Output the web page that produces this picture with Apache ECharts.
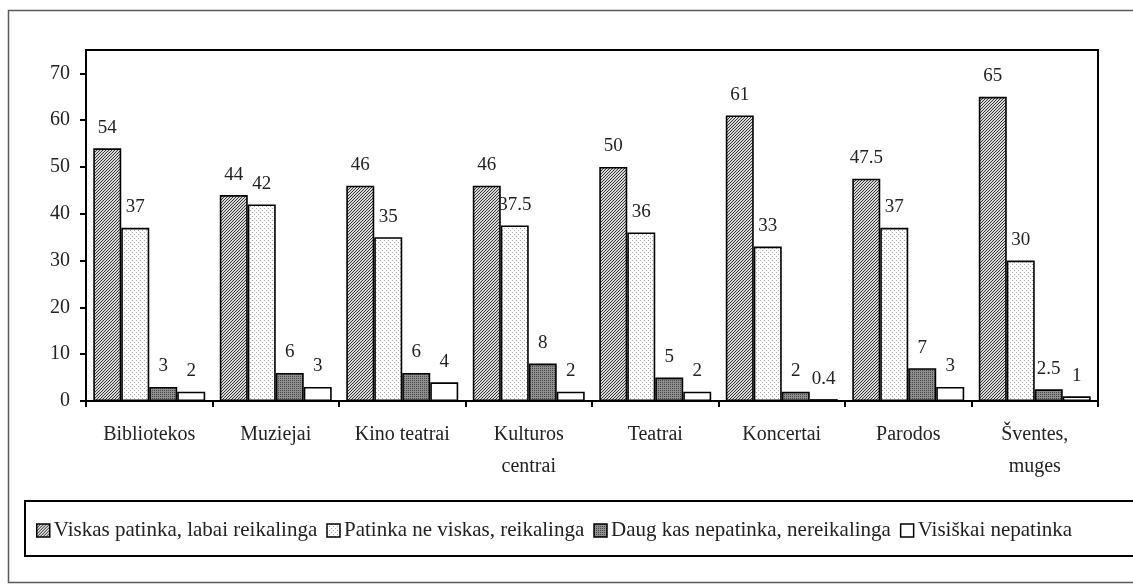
<!DOCTYPE html>
<html>
<head>
<meta charset="utf-8">
<script src="https://cdn.jsdelivr.net/npm/echarts@6/dist/echarts.min.js"></script>
<style>
  html, body { margin: 0; padding: 0; background: #fff; }
  #chart { width: 1133px; height: 584px; }
</style>
</head>
<body>
<div id="chart"></div>
<script>
// duomenys
var categories = ['Bibliotekos', 'Muziejai', 'Kino teatrai', 'Kulturos\ncentrai', 'Teatrai', 'Koncertai', 'Parodos', 'Šventes,\nmuges'];
var seriesNames = ['Viskas patinka, labai reikalinga', 'Patinka ne viskas, reikalinga', 'Daug kas nepatinka, nereikalinga', 'Visiškai nepatinka'];
var viskasPatinka = [54, 44, 46, 46, 50, 61, 47.5, 65];
var patinkaNeViskas = [37, 42, 35, 37.5, 36, 33, 37, 30];
var daugNepatinka = [3, 6, 6, 8, 5, 2, 7, 2.5];
var visiskaiNepatinka = [2, 3, 4, 2, 2, 0.4, 3, 1];
var yTicks = [0, 10, 20, 30, 40, 50, 60, 70];

var FONT = '"Liberation Serif", "DejaVu Serif", serif';

// raštai stulpeliams (canvas pattern)
function makePattern(size, bg, fn) {
    var c = document.createElement('canvas');
    c.width = size; c.height = size;
    var ctx = c.getContext('2d');
    ctx.fillStyle = bg;
    ctx.fillRect(0, 0, size, size);
    for (var x = 0; x < size; x++) {
        for (var y = 0; y < size; y++) {
            var col = fn(x, y);
            if (col) { ctx.fillStyle = col; ctx.fillRect(x, y, 1, 1); }
        }
    }
    return { image: c, repeat: 'repeat' };
}
var hatch = makePattern(3, '#d6d6d6', function (x, y) { return (x + y) % 3 == 0 ? '#3a3a3a' : null; });
var dots = makePattern(4, '#ffffff', function (x, y) { return (x == 0 && y == 0) || (x == 2 && y == 2) ? '#a8a8a8' : null; });
var darkDots = makePattern(2, '#8e8e8e', function (x, y) { return (x == 0 && y == 0) ? '#4a4a4a' : null; });

var chart = echarts.init(document.getElementById('chart'));

function barSeries(name, data, fill) {
    return {
        name: name,
        type: 'bar',
        data: data,
        barGap: '0%',
        barCategoryGap: '11.5%',
        itemStyle: { color: fill, borderColor: '#000', borderWidth: 1.6 },
        label: {
            show: true,
            position: 'top',
            distance: 11,
            color: '#222',
            fontFamily: FONT,
            fontSize: 19
        }
    };
}

var option = {
    animation: false,
    backgroundColor: '#fff',
    graphic: [
        {
            type: 'rect',
            shape: { x: 8.5, y: 10.5, width: 1140, height: 572 },
            style: { fill: 'none', stroke: '#5a5a5a', lineWidth: 1.5 },
            silent: true
        },
        {
            type: 'rect',
            shape: { x: 25, y: 501, width: 1130, height: 55 },
            style: { fill: 'none', stroke: '#000', lineWidth: 2 },
            silent: true
        }
    ],
    grid: {
        left: 86, top: 50, right: 35, bottom: 183,
        show: true, borderColor: '#000', borderWidth: 2,
        containLabel: false
    },
    legend: {
        data: seriesNames,
        left: 31,
        top: 515,
        icon: 'rect',
        itemWidth: 13,
        itemHeight: 13,
        itemGap: 9,
        itemStyle: { borderColor: '#000', borderWidth: 1.5 },
        textStyle: { fontFamily: FONT, fontSize: 21, color: '#222', padding: [0, 0, 0, -1] }
    },
    xAxis: {
        type: 'category',
        data: categories,
        axisLine: { lineStyle: { color: '#000', width: 2 } },
        axisTick: { show: true, length: 6, lineStyle: { color: '#000', width: 2 } },
        axisLabel: {
            interval: 0,
            margin: 18,
            color: '#222',
            fontFamily: FONT,
            fontSize: 20,
            lineHeight: 32
        }
    },
    yAxis: {
        type: 'value',
        min: 0,
        max: 75,
        interval: 10,
        splitLine: { show: false },
        axisLine: { show: true, lineStyle: { color: '#000', width: 2 } },
        axisTick: { show: true, length: 6, customValues: yTicks, lineStyle: { color: '#000', width: 2 } },
        axisLabel: {
            customValues: yTicks,
            margin: 16,
            color: '#222',
            fontFamily: FONT,
            fontSize: 20
        }
    },
    series: [
        barSeries(seriesNames[0], viskasPatinka, hatch),
        barSeries(seriesNames[1], patinkaNeViskas, dots),
        barSeries(seriesNames[2], daugNepatinka, darkDots),
        barSeries(seriesNames[3], visiskaiNepatinka, '#ffffff')
    ]
};

chart.setOption(option);
</script>
</body>
</html>
